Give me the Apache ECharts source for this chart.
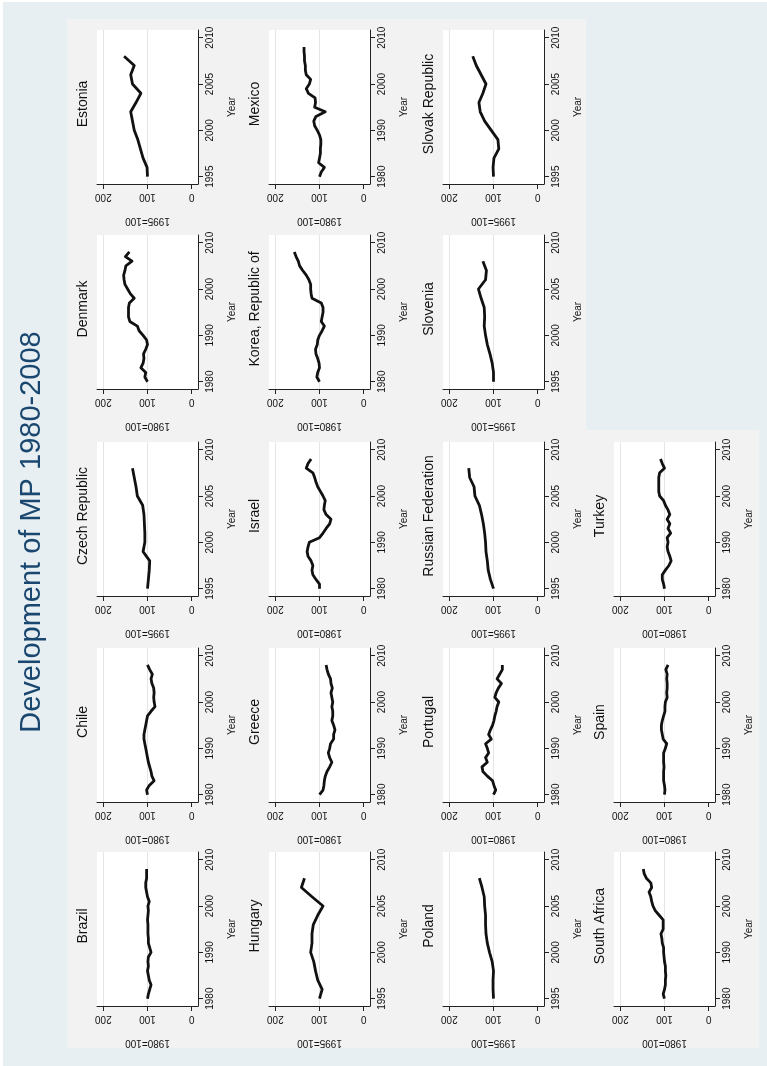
<!DOCTYPE html>
<html>
<head>
<meta charset="utf-8">
<script src="https://cdn.jsdelivr.net/npm/echarts@6/dist/echarts.min.js"></script>
<style>
  html, body { margin: 0; padding: 0; background: #ffffff; }
  #chart { width: 767px; height: 1066px; }
</style>
</head>
<body>
<div id="chart"></div>
<script>
// Years covered by each series
const years1980 = [1980, 1981, 1982, 1983, 1984, 1985, 1986, 1987, 1988, 1989,
                   1990, 1991, 1992, 1993, 1994, 1995, 1996, 1997, 1998, 1999,
                   2000, 2001, 2002, 2003, 2004, 2005, 2006, 2007, 2008];
const years1995 = [1995, 1996, 1997, 1998, 1999, 2000, 2001, 2002, 2003, 2004,
                   2005, 2006, 2007, 2008];

// Tick labels
const yearTicks1980 = [1980, 1990, 2000, 2010];
const yearTicks1995 = [1995, 2000, 2005, 2010];
const indexTicks = [0, 100, 200];
const indexGridLines = [100, 200];

// MP index per country (base year = 100)
const brazil      = [100, 98, 95, 92, 96, 98, 100, 98, 99, 98, 92, 95, 98, 98, 99, 99, 99, 100, 99, 98, 99, 96, 100, 102, 104, 104, 102, 102, 102];
const chile       = [100, 102, 96, 85, 90, 92, 95, 98, 100, 102, 104, 106, 108, 108, 106, 104, 102, 100, 92, 83, 85, 86, 85, 86, 90, 92, 89, 95, 100];
const czech       = [100, 98, 96, 95, 110, 106, 106, 107, 108, 111, 123, 126, 130, 134];
const denmark     = [100, 106, 104, 115, 110, 108, 109, 104, 100, 102, 110, 119, 123, 140, 143, 143, 143, 141, 130, 139, 145, 151, 153, 154, 151, 149, 135, 150, 141];
const estonia     = [100, 101, 110, 116, 122, 130, 134, 138, 126, 115, 134, 138, 130, 153];
const greece      = [100, 92, 90, 89, 87, 83, 77, 72, 77, 80, 77, 75, 68, 68, 65, 68, 72, 70, 70, 72, 70, 72, 74, 71, 74, 75, 80, 83, 85];
const hungary     = [100, 94, 104, 109, 113, 120, 117, 117, 114, 104, 92, 117, 141, 134];
const israel      = [100, 100, 108, 115, 117, 115, 119, 126, 128, 126, 123, 100, 92, 85, 77, 74, 85, 90, 89, 87, 92, 98, 104, 108, 111, 115, 130, 126, 119];
const korea       = [100, 106, 104, 100, 101, 104, 108, 109, 105, 104, 100, 94, 89, 96, 94, 92, 92, 96, 117, 119, 120, 120, 124, 130, 138, 145, 148, 153, 157];
const mexico      = [100, 96, 89, 102, 100, 98, 98, 97, 97, 100, 105, 111, 113, 108, 87, 111, 109, 110, 125, 130, 123, 120, 130, 132, 132, 134, 134, 135, 135];
const poland      = [100, 101, 101, 100, 103, 109, 114, 117, 118, 118, 120, 121, 126, 132];
const portugal    = [100, 95, 99, 102, 114, 124, 126, 114, 118, 111, 114, 118, 105, 111, 107, 102, 99, 97, 94, 92, 88, 97, 94, 89, 82, 92, 86, 80, 80];
const russia      = [100, 107, 112, 114, 117, 118, 120, 123, 127, 132, 142, 144, 154, 156];
const slovakia    = [100, 101, 99, 88, 90, 105, 120, 130, 133, 124, 117, 128, 139, 147];
const slovenia    = [100, 100, 103, 108, 114, 118, 121, 120, 121, 128, 134, 118, 116, 124];
const southAfrica = [100, 103, 100, 98, 98, 97, 98, 98, 100, 101, 102, 102, 105, 106, 108, 103, 103, 103, 112, 121, 126, 129, 131, 135, 129, 131, 141, 146, 148];
const spain       = [100, 99, 100, 102, 102, 102, 101, 102, 102, 102, 98, 95, 103, 105, 107, 107, 105, 102, 99, 99, 98, 94, 95, 94, 94, 95, 94, 97, 92];
const turkey      = [100, 102, 105, 105, 98, 90, 85, 88, 92, 94, 92, 94, 86, 92, 88, 94, 88, 92, 98, 102, 111, 113, 113, 113, 113, 111, 100, 105, 109];

// Panels: name, base year, values
const panels = [
  ['Brazil', 1980, brazil], ['Chile', 1980, chile], ['Czech Republic', 1995, czech],
  ['Denmark', 1980, denmark], ['Estonia', 1995, estonia],
  ['Hungary', 1995, hungary], ['Greece', 1980, greece], ['Israel', 1980, israel],
  ['Korea, Republic of', 1980, korea], ['Mexico', 1980, mexico],
  ['Poland', 1995, poland], ['Portugal', 1980, portugal], ['Russian Federation', 1995, russia],
  ['Slovenia', 1995, slovenia], ['Slovak Republic', 1995, slovakia],
  ['South Africa', 1980, southAfrica], ['Spain', 1980, spain], ['Turkey', 1980, turkey]
];

// ---- layout (page is drawn turned a quarter turn: years run upward) ----
const COL_X = [97, 269, 443, 614];
const ROW_Y = [30, 235, 442, 648, 852];
const PW = 101, PH = 154;
const FONT = '"Liberation Sans", Arial, Helvetica, sans-serif';
const INK = '#111111';
const AXIS = '#222222';

// panel k of group g sits in column g, counting rows from the bottom
function cellOf(i) {
  const groups = [5, 5, 5, 3];
  let g = 0, k = i;
  while (k >= groups[g]) { k -= groups[g]; g++; }
  return { col: g, row: 4 - k };
}

const plain = v => String(Math.round(v));

const grids = [], xAxes = [], yAxes = [], series = [], graphics = [];

// background regions
graphics.push({ type: 'rect', z: -30, shape: { x: 3, y: 2, width: 764, height: 1064 }, style: { fill: '#e8eff2' }, silent: true });
graphics.push({ type: 'rect', z: -20, shape: { x: 67, y: 19, width: 519, height: 1029 }, style: { fill: '#f2f2f2' }, silent: true });
graphics.push({ type: 'rect', z: -20, shape: { x: 586, y: 430, width: 173, height: 618 }, style: { fill: '#f2f2f2' }, silent: true });

graphics.push({
  type: 'text', x: 32, y: 532, rotation: Math.PI / 2, silent: true,
  style: { text: 'Development of MP 1980-2008', fontSize: 29, fontFamily: FONT, fill: '#1a476f',
           align: 'center', verticalAlign: 'middle', textAlign: 'center', textVerticalAlign: 'middle' }
});

panels.forEach(([name, base, values], i) => {
  const { col, row } = cellOf(i);
  const left = COL_X[col], top = ROW_Y[row];
  const years = base === 1980 ? years1980 : years1995;
  const yearTicks = base === 1980 ? yearTicks1980 : yearTicks1995;
  const yMin = base === 1980 ? 1978.42 : 1994.21;
  const yMax = base === 1980 ? 2011.66 : 2010.83;

  grids.push({ left: left, top: top, width: PW, height: PH, show: true,
               backgroundColor: '#ffffff', borderWidth: 0, containLabel: false });

  xAxes.push({
    gridIndex: i, type: 'value', inverse: true, position: 'bottom',
    min: -14.3, max: 214.3,
    axisLine: { show: true, onZero: false, lineStyle: { color: AXIS, width: 1 } },
    axisTick: { show: true, length: 5, customValues: indexTicks, lineStyle: { color: AXIS, width: 1 } },
    axisLabel: { show: true, customValues: indexTicks, formatter: plain, rotate: 180, fontSize: 10,
                 color: INK, fontFamily: FONT, margin: 8 },
    splitLine: { show: false },
    name: base + '=100', nameLocation: 'middle', nameRotate: 180, nameGap: 32,
    nameTextStyle: { fontSize: 10, color: INK, fontFamily: FONT }
  });

  yAxes.push({
    gridIndex: i, type: 'value', position: 'right',
    min: yMin, max: yMax,
    axisLine: { show: true, onZero: false, lineStyle: { color: AXIS, width: 1 } },
    axisTick: { show: true, length: 5, customValues: yearTicks, lineStyle: { color: AXIS, width: 1 } },
    axisLabel: { show: true, customValues: yearTicks, formatter: plain, rotate: 90, fontSize: 10,
                 color: INK, fontFamily: FONT, margin: 7 },
    splitLine: { show: false },
    name: 'Year', nameLocation: 'middle', nameRotate: 90, nameGap: 29,
    nameTextStyle: { fontSize: 10, color: INK, fontFamily: FONT }
  });

  series.push({
    type: 'line', xAxisIndex: i, yAxisIndex: i,
    data: years.map((yr, k) => [values[k], yr]),
    showSymbol: false, symbol: 'none', smooth: false, animation: false,
    lineStyle: { color: '#111111', width: 2.8, join: 'round' },
    markLine: {
      silent: true, symbol: 'none', animation: false, z: 1,
      label: { show: false },
      lineStyle: { color: '#e3e6e8', width: 1, type: 'solid' },
      data: indexGridLines.map(v => ({ xAxis: v }))
    },
    z: 3
  });

  graphics.push({
    type: 'text', x: left - 14, y: top + PH / 2 - 3, rotation: Math.PI / 2, silent: true,
    style: { text: name, fontSize: 14, fontFamily: FONT, fill: INK,
             align: 'center', verticalAlign: 'middle', textAlign: 'center', textVerticalAlign: 'middle' }
  });
});

const chart = echarts.init(document.getElementById('chart'), null, { renderer: 'canvas' });
chart.setOption({
  animation: false,
  backgroundColor: '#ffffff',
  textStyle: { fontFamily: FONT },
  grid: grids,
  xAxis: xAxes,
  yAxis: yAxes,
  series: series,
  graphic: { elements: graphics }
});
</script>
</body>
</html>
